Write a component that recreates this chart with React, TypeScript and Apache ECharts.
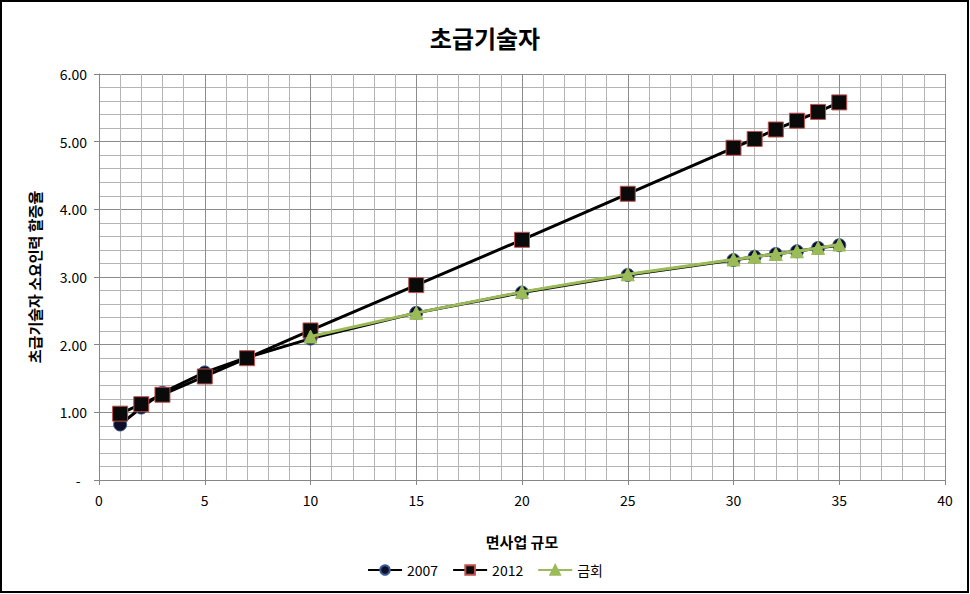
import React, { useEffect, useRef } from "react";
import * as echarts from "echarts";

const xValues2007 = [1, 2, 3, 5, 7, 10, 15, 20, 25, 30, 31, 32, 33, 34, 35];
const values2007 = [0.82, 1.07, 1.29, 1.59, 1.81, 2.09, 2.47, 2.77, 3.03, 3.25, 3.30, 3.34, 3.38, 3.43, 3.47];
const xValues2012 = [1, 2, 3, 5, 7, 10, 15, 20, 25, 30, 31, 32, 33, 34, 35];
const values2012 = [0.98, 1.12, 1.26, 1.53, 1.80, 2.21, 2.88, 3.55, 4.23, 4.91, 5.04, 5.18, 5.31, 5.44, 5.58];
const xValuesNow = [10, 15, 20, 25, 30, 31, 32, 33, 34, 35];
const valuesNow = [2.12, 2.47, 2.78, 3.04, 3.26, 3.30, 3.34, 3.38, 3.43, 3.48];

const seriesNames = ["2007", "2012", "금회"];
const titleText = "초급기술자";
const xAxisName = "면사업 규모";
const yAxisName = "초급기술자 소요인력 할증율";

const FONT = "'Noto Sans CJK KR', 'Noto Sans', sans-serif";

function pairs(xs: number[], ys: number[]) {
  return xs.map((x, i) => [x, ys[i]]);
}

export default function App() {
  const ref = useRef<HTMLDivElement>(null);
  useEffect(() => {
    if (!ref.current) return;
    const chart = echarts.init(ref.current, undefined, { renderer: "svg" });
    chart.setOption({
      animation: false,
      backgroundColor: "#ffffff",
      textStyle: { fontFamily: FONT },
      title: {
        text: titleText,
        left: "center",
        top: 20,
        textStyle: { fontSize: 24, fontWeight: "bold", color: "#000", fontFamily: FONT },
      },
      graphic: [
        {
          type: "rect",
          shape: { x: 1, y: 1, width: 967, height: 591 },
          style: { fill: "none", stroke: "#000", lineWidth: 2 },
          silent: true,
        },
        {
          type: "text",
          x: 34,
          y: 277,
          rotation: Math.PI / 2,
          style: {
            text: yAxisName,
            fontSize: 15,
            fontWeight: "bold",
            fill: "#000",
            fontFamily: FONT,
            align: "center",
            verticalAlign: "middle",
          },
        },
      ],
      legend: {
        bottom: 12,
        left: "center",
        itemWidth: 34,
        itemHeight: 12,
        itemGap: 14,
        textStyle: { fontSize: 14, color: "#000", fontFamily: FONT },
        data: seriesNames,
      },
      grid: { left: 99, right: 25, top: 74, bottom: 114 },
      xAxis: {
        type: "value",
        min: 0,
        max: 40,
        interval: 5,
        name: xAxisName,
        nameLocation: "middle",
        nameGap: 54,
        nameTextStyle: { fontSize: 15, fontWeight: "bold", color: "#000", fontFamily: FONT },
        axisLine: { show: true, lineStyle: { color: "#868686", width: 1 } },
        axisTick: { show: true, length: 5, lineStyle: { color: "#868686" } },
        axisLabel: { fontSize: 14, color: "#000", margin: 13, fontFamily: FONT },
        splitLine: { show: true, lineStyle: { color: "#8c8c8c", width: 1 } },
        minorTick: { show: false, splitNumber: 5 },
        minorSplitLine: { show: true, lineStyle: { color: "#b4b4b4", width: 1 } },
      },
      yAxis: {
        type: "value",
        min: 0,
        max: 6,
        interval: 1,
        axisLine: { show: true, lineStyle: { color: "#868686", width: 1 } },
        axisTick: { show: true, length: 5, lineStyle: { color: "#868686" } },
        axisLabel: {
          fontSize: 14,
          color: "#000",
          margin: 12,
          fontFamily: FONT,
          formatter: (v: number) => (v === 0 ? "-  " : v.toFixed(2)),
        },
        splitLine: { show: true, lineStyle: { color: "#8c8c8c", width: 1 } },
        minorTick: { show: false, splitNumber: 5 },
        minorSplitLine: { show: true, lineStyle: { color: "#b4b4b4", width: 1 } },
      },
      series: [
        {
          name: seriesNames[0],
          type: "line",
          data: pairs(xValues2007, values2007),
          symbol: "circle",
          symbolSize: 13,
          lineStyle: { color: "#000", width: 3 },
          itemStyle: { color: "#0d0f26", borderColor: "#3a5a9a", borderWidth: 1 },
          z: 2,
        },
        {
          name: seriesNames[1],
          type: "line",
          data: pairs(xValues2012, values2012),
          symbol: "rect",
          symbolSize: 15,
          lineStyle: { color: "#000", width: 3 },
          itemStyle: { color: "#0a0a0a", borderColor: "#c0504d", borderWidth: 1 },
          z: 3,
        },
        {
          name: seriesNames[2],
          type: "line",
          data: pairs(xValuesNow, valuesNow),
          symbol: "triangle",
          symbolSize: 13,
          lineStyle: { color: "#9bbb59", width: 3 },
          itemStyle: { color: "#9bbb59", borderColor: "#9bbb59", borderWidth: 1 },
          z: 4,
        },
      ],
    });
    return () => chart.dispose();
  }, []);
  return (
    <div
      ref={ref}
      style={{ position: "fixed", left: 0, top: 0, width: 970, height: 594 }}
    />
  );
}
